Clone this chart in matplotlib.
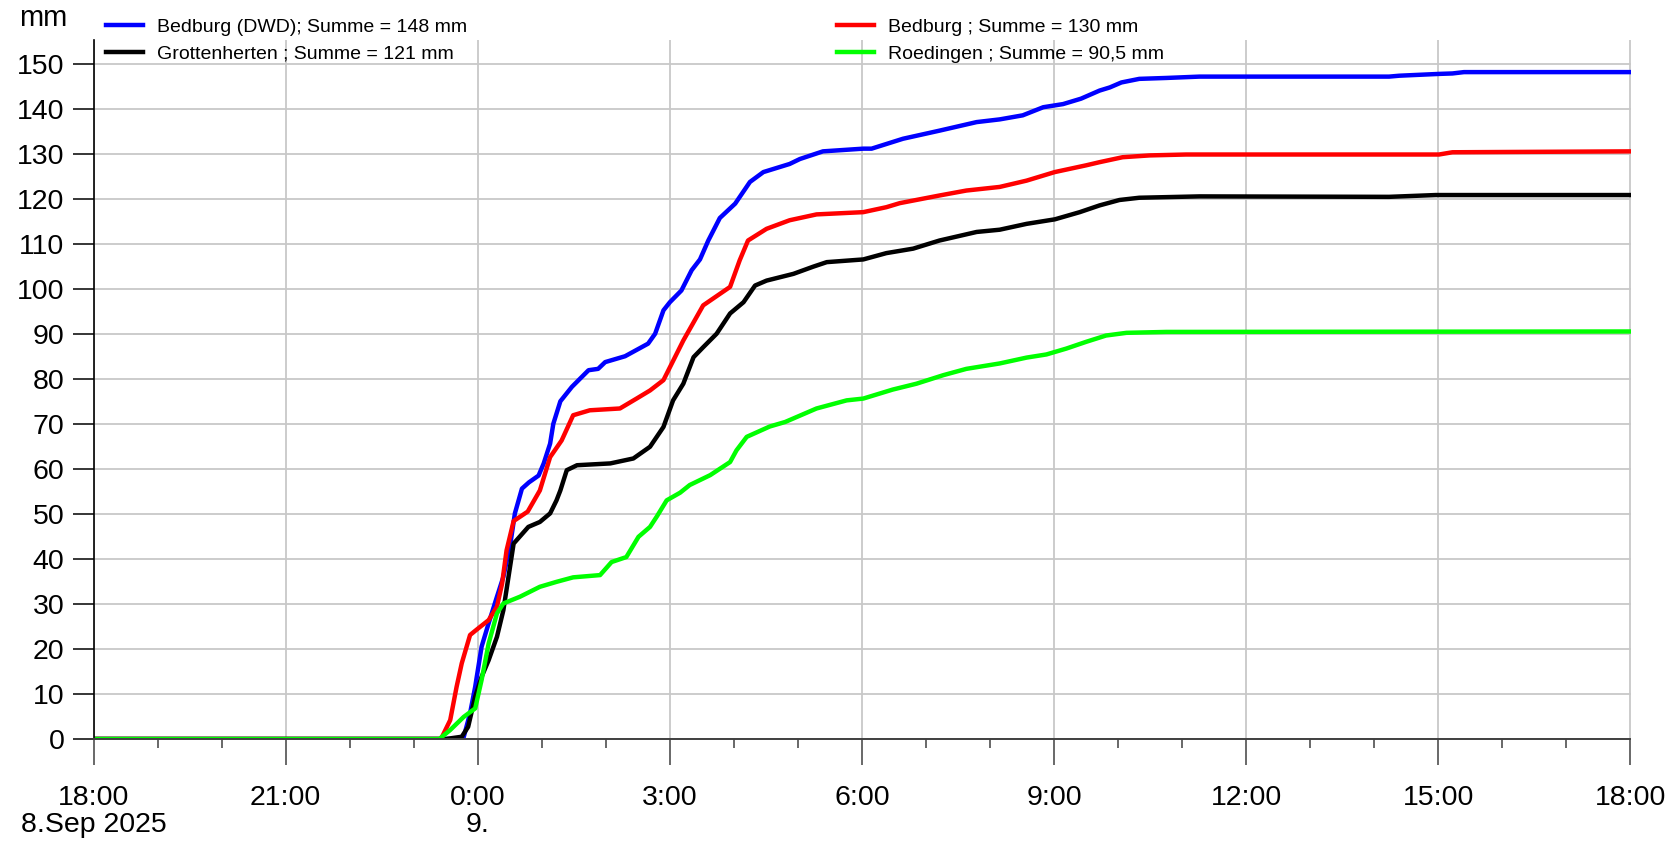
import matplotlib
matplotlib.use('Agg')
import numpy as np
import matplotlib.pyplot as plt

plt.rcParams['font.family'] = ['Liberation Sans', 'DejaVu Sans']

# Stunden ab 8.9.2025 18:00, Werte = Niederschlagssumme (mm)
h_dwd = [0, 5.75, 5.78, 5.88, 5.96, 6.06, 6.17, 6.30, 6.40, 6.51, 6.58, 6.69, 6.80, 6.95, 7.03,
         7.13, 7.18, 7.29, 7.47, 7.73, 7.88, 7.99, 8.30, 8.66, 8.77, 8.90, 9.0, 9.18, 9.34, 9.47,
         9.60, 9.78, 10.02, 10.25, 10.46, 10.87, 11.03, 11.39, 12.02, 12.15, 12.64, 13.21, 13.79,
         14.15, 14.51, 14.83, 15.14, 15.42, 15.71, 15.87, 16.05, 16.33, 16.75, 17.27, 20.23,
         20.39, 21.01, 21.22, 21.4, 24]
v_dwd = [0, 0, 0.4, 5.7, 11.6, 20.5, 25.7, 31.6, 36.0, 43.4, 50.1, 55.6, 57.0, 58.5, 61.2,
         65.6, 70.0, 75.0, 78.2, 81.9, 82.2, 83.7, 85.0, 87.8, 90.0, 95.2, 97.0, 99.6, 104.1, 106.5,
         110.7, 115.7, 118.9, 123.7, 125.9, 127.7, 128.8, 130.5, 131.1, 131.1, 133.3, 135.1, 137.0,
         137.6, 138.5, 140.3, 141.0, 142.2, 144.0, 144.7, 145.8, 146.6, 146.8, 147.1, 147.1,
         147.3, 147.7, 147.8, 148.1, 148.1]

h_bed = [0, 5.42, 5.44, 5.57, 5.67, 5.75, 5.88, 6.01, 6.17, 6.30, 6.38, 6.45, 6.56, 6.78, 6.97,
         7.13, 7.31, 7.49, 7.75, 8.22, 8.48, 8.69, 8.90, 9.21, 9.52, 9.94, 10.09, 10.22, 10.51,
         10.87, 11.29, 12.02, 12.38, 12.59, 13.21, 13.63, 14.15, 14.57, 15.01, 15.50, 15.71,
         16.07, 16.49, 17.06, 21.01, 21.22, 24]
v_bed = [0, 0, 0.4, 4.2, 11.6, 16.8, 23.1, 24.6, 26.4, 29.4, 34.5, 41.9, 48.4, 50.5, 55.2,
         62.6, 66.3, 71.9, 73.0, 73.4, 75.6, 77.4, 79.7, 88.5, 96.3, 100.4, 106.3, 110.7, 113.3,
         115.2, 116.5, 117.0, 118.1, 119.0, 120.7, 121.8, 122.6, 124.0, 125.9, 127.4, 128.1,
         129.2, 129.6, 129.8, 129.8, 130.3, 130.5]

h_gro = [0, 5.50, 5.75, 5.85, 5.96, 6.06, 6.17, 6.30, 6.40, 6.48, 6.56, 6.79, 6.97, 7.13, 7.23,
         7.29, 7.39, 7.55, 8.07, 8.43, 8.69, 8.90, 9.05, 9.21, 9.37, 9.52, 9.73, 9.94, 10.15,
         10.33, 10.51, 10.93, 11.24, 11.45, 12.02, 12.38, 12.80, 13.21, 13.79, 14.15, 14.57,
         15.01, 15.40, 15.71, 16.02, 16.33, 17.27, 20.23, 20.96, 24]
v_gro = [0, 0, 0.5, 2.7, 9.4, 13.8, 17.5, 22.7, 28.6, 36.0, 43.4, 47.1, 48.2, 50.1, 53.0,
         55.2, 59.7, 60.8, 61.2, 62.3, 64.9, 69.3, 75.2, 78.9, 84.8, 87.0, 90.0, 94.5, 97.0,
         100.7, 101.8, 103.3, 104.9, 105.9, 106.5, 107.9, 108.9, 110.7, 112.6, 113.1, 114.4,
         115.4, 117.0, 118.5, 119.7, 120.2, 120.5, 120.4, 120.8, 120.8]

h_roe = [0, 5.40, 5.45, 5.57, 5.78, 5.96, 6.06, 6.17, 6.30, 6.40, 6.66, 6.97, 7.23, 7.49, 7.91,
         8.09, 8.32, 8.51, 8.69, 8.80, 8.95, 9.16, 9.31, 9.63, 9.94, 10.04, 10.20, 10.56, 10.80,
         11.29, 11.76, 12.02, 12.48, 12.85, 13.27, 13.63, 14.15, 14.57, 14.88, 15.19, 15.50,
         15.81, 16.13, 16.75, 24]
v_roe = [0, 0, 0.6, 2.0, 4.9, 6.8, 13.1, 21.2, 27.9, 30.1, 31.6, 33.8, 34.9, 35.9, 36.4,
         39.3, 40.4, 44.9, 47.1, 49.5, 53.0, 54.7, 56.4, 58.6, 61.5, 64.1, 67.1, 69.4, 70.4,
         73.4, 75.2, 75.6, 77.6, 78.9, 80.8, 82.2, 83.4, 84.7, 85.4, 86.7, 88.2,
         89.6, 90.2, 90.4, 90.5]

labels = ['Bedburg (DWD); Summe = 148 mm', 'Grottenherten ; Summe = 121 mm',
          'Bedburg ; Summe = 130 mm', 'Roedingen ; Summe = 90,5 mm']
xticks = [0, 3, 6, 9, 12, 15, 18, 21, 24]
xticklabels = ['18:00\n8.Sep 2025', '21:00', '0:00\n9.', '3:00', '6:00', '9:00',
               '12:00', '15:00', '18:00']
yticks = list(range(0, 151, 10))

W, H = 1673, 843
fig = plt.figure(figsize=(W / 100, H / 100), dpi=100)
ax = fig.add_axes([93.5 / W, 1 - 739 / H, (1630.5 - 93.5) / W, (739 - 40.5) / H])

lw = 3.2
l_dwd, = ax.plot(h_dwd, v_dwd, color='#0000ff', lw=lw, solid_joinstyle='round')
l_gro, = ax.plot(h_gro, v_gro, color='black', lw=lw, solid_joinstyle='round')
l_bed, = ax.plot(h_bed, v_bed, color='#ff0000', lw=lw, solid_joinstyle='round')
l_roe, = ax.plot(h_roe, v_roe, color='#00ff00', lw=lw, solid_joinstyle='round')

ax.set_xlim(0, 24)
ax.set_ylim(0, (739 - 40.5) / 4.503)
ax.set_xticks(xticks)
ax.set_xticklabels(xticklabels, linespacing=1.05)
ax.set_xticks(range(0, 25), minor=True)
ax.set_yticks(yticks)
ax.grid(True, which='major', color='#c8c8c8', lw=1.3)
ax.set_axisbelow(True)
for s in ['top', 'right']:
    ax.spines[s].set_visible(False)
ax.spines['left'].set_linewidth(1.2)
ax.spines['bottom'].set_color('#404040')
ax.spines['bottom'].set_linewidth(1.4)
ax.tick_params(axis='x', which='major', length=19, width=1.1, pad=14, labelsize=20.5, color='#404040')
ax.tick_params(axis='x', which='minor', length=6.5, width=1.1, color='#404040')
ax.tick_params(axis='y', length=15, width=1.1, pad=6, labelsize=20.5)

fig.text(19 / W, 1 - 18 / H, 'mm', fontsize=21, va='center', ha='left')

kw = dict(frameon=False, fontsize=14, borderpad=0, borderaxespad=0, handlelength=1.9,
          handletextpad=0.7, labelspacing=0.48, loc='upper left')
leg1 = fig.legend([l_dwd, l_gro], labels[:2], bbox_to_anchor=(106 / W, 1 - 18 / H), **kw)
leg2 = fig.legend([l_bed, l_roe], labels[2:], bbox_to_anchor=(837 / W, 1 - 18 / H), **kw)

plt.savefig('out.png', dpi=100)
